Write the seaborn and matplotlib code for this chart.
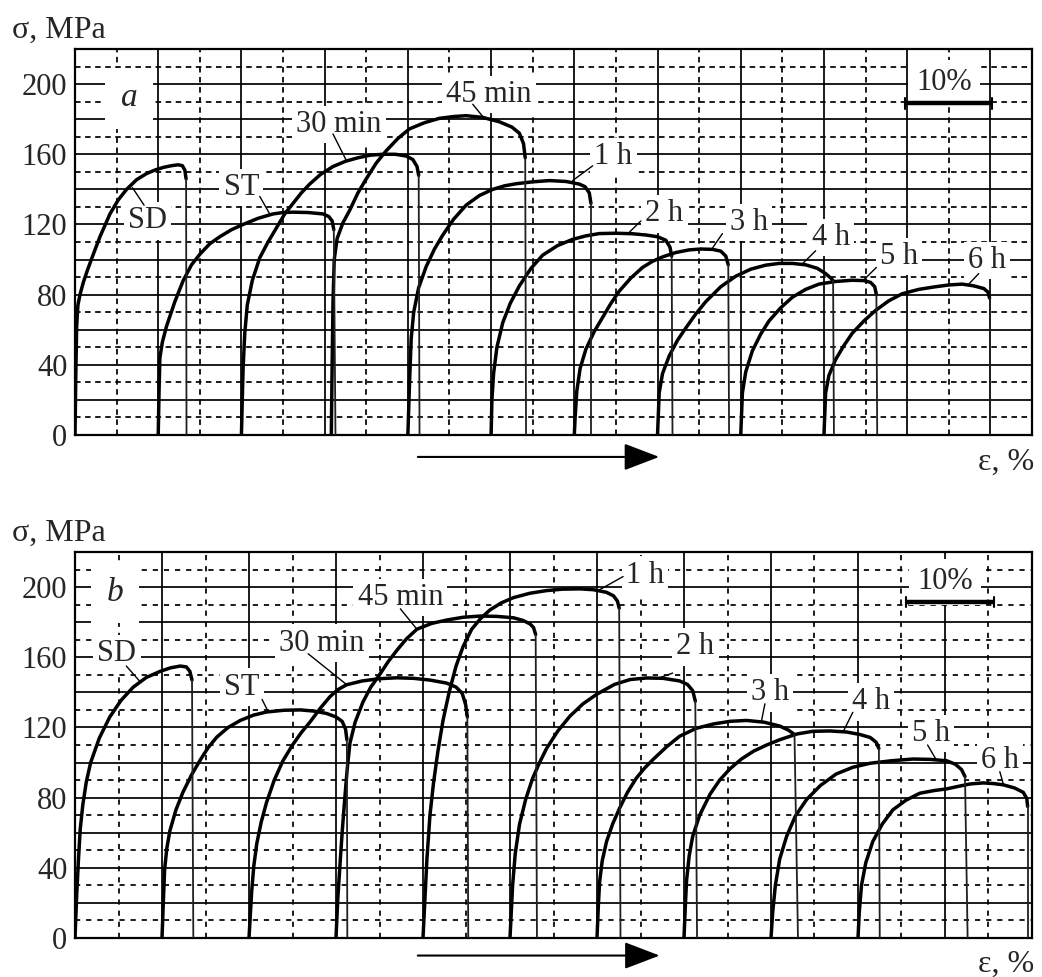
import matplotlib
matplotlib.use("Agg")
import matplotlib.pyplot as plt
import seaborn as sns
import pandas as pd
import numpy as np

CURVES = ["SD", "ST", "30 min", "45 min", "1 h", "2 h", "3 h", "4 h", "5 h", "6 h"]

# ---------------- panel a : strain (%) / stress (MPa) ----------------
A_SD_X = [0, 0.1, 0.2, 0.35, 0.6, 1.0, 1.5, 2.2, 3.0, 4.2, 5.2, 6.2, 7.4, 8.6, 9.6, 10.6, 11.6, 12.4, 12.9, 13.2, 13.35, 13.4]
A_SD_Y = [0, 35, 62, 74, 80, 87, 94, 103, 113, 126, 134, 140, 145.5, 149, 151, 152.5, 153.5, 154, 153.5, 151, 146, 0]
A_ST_X = [10, 10.1, 10.2, 10.5, 11, 12, 13, 14, 15, 16.2, 17.4, 18.8, 20.2, 22, 23.8, 25, 26.2, 28, 29.8, 30.5, 30.9, 31.1, 31.3]
A_ST_Y = [0, 25, 44, 53, 62, 76, 88, 97, 103, 109, 113, 117, 120, 123.5, 126, 126.8, 127, 126.8, 126, 124.5, 122, 117, 0]
A_30_X = [20, 20.1, 20.2, 20.4, 20.7, 21.3, 22.2, 23.2, 24.2, 25.2, 26.2, 27.2, 28.2, 29.5, 31, 32.5, 34, 35.5, 37, 38.5, 39.8, 40.6, 41.1, 41.3, 41.4]
A_30_Y = [0, 20, 38, 58, 74, 88, 101, 110, 118, 126, 132, 138, 143, 148.5, 153, 156, 158, 159.5, 160, 160, 159, 157, 153, 148, 0]
A_45_X = [30.8, 30.9, 31.0, 31.15, 31.5, 32.2, 33, 34, 35, 36.2, 37.4, 38.8, 40.2, 42, 43.8, 45.5, 47, 49, 51, 52.5, 53.4, 53.9, 54.1, 54.2]
A_45_Y = [0, 40, 75, 100, 112, 121, 128, 138, 146, 155, 162, 169, 174.5, 178, 180.5, 181.5, 182, 181, 178.5, 175.5, 172, 166, 158, 0]
A_1H_X = [40, 40.1, 40.2, 40.4, 40.7, 41.3, 42.2, 43.2, 44.2, 45.5, 47, 48.6, 50.2, 51.6, 53, 55, 57, 59, 60.6, 61.3, 61.8, 62.0, 62.0]
A_1H_Y = [0, 15, 30, 55, 70, 84, 96, 106, 114, 123, 131, 136.5, 140, 142, 143.2, 144.3, 145, 144.5, 143, 141.5, 138, 132, 0]
A_2H_X = [50, 50.1, 50.3, 50.7, 51.4, 52.3, 53.4, 54.8, 56.2, 58, 59.8, 61.4, 63, 65, 67, 68.6, 70, 71, 71.5, 71.7, 71.8]
A_2H_Y = [0, 20, 35, 50, 64, 75, 85, 95, 102.5, 108, 111.5, 113.5, 114.8, 115, 114.7, 114, 113, 111, 107, 102, 0]
A_3H_X = [60, 60.1, 60.3, 60.7, 61.4, 62.4, 63.4, 64.4, 65.4, 66.8, 68.2, 69.4, 70.6, 72.2, 73.8, 75.2, 76.6, 77.6, 78.2, 78.5, 78.6]
A_3H_Y = [0, 10, 25, 38, 49, 59, 67, 75, 82, 89.5, 95.5, 99, 101.5, 104, 105.5, 106, 105.8, 104.8, 102, 97, 0]
A_4H_X = [70, 70.1, 70.2, 70.6, 71.4, 72.4, 73.4, 74.6, 75.8, 77.6, 79.4, 81.2, 83, 84.6, 86.2, 87.8, 89.2, 90.2, 90.8, 91.1, 91.2]
A_4H_Y = [0, 12, 24, 35, 45, 54, 61, 69, 76, 84.5, 90.5, 94.5, 96.8, 97.8, 97.8, 97, 95, 92, 89.5, 88, 0]
A_5H_X = [80, 80.1, 80.2, 80.6, 81.4, 82.4, 83.4, 84.8, 86.2, 87.8, 89.4, 91.4, 93.4, 94.8, 95.6, 96.1, 96.3, 96.4]
A_5H_Y = [0, 12, 24, 36, 48, 57.5, 65, 72.5, 78.5, 83, 86, 87.5, 88.2, 88, 87, 84.5, 80, 0]
A_6H_X = [90, 90.1, 90.2, 90.6, 91.4, 92.4, 93.4, 94.8, 96.2, 97.8, 99.4, 101.4, 103.4, 105, 106.6, 108, 109.2, 109.7, 109.9, 109.9]
A_6H_Y = [0, 12, 24, 34, 43, 51, 58, 65, 71, 76.5, 80.5, 83, 84.5, 85.5, 86, 85, 83.5, 81.5, 78, 0]

# ---------------- panel b ----------------
B_SD_X = [0, 0.2, 0.4, 0.6, 0.9, 1.3, 1.8, 2.8, 4, 5.3, 6.7, 8.2, 9.8, 11, 12.1, 12.8, 13.2, 13.45, 13.6]
B_SD_Y = [0, 25, 45, 62, 76, 89, 100, 114, 126, 135.5, 143, 148.5, 152, 154, 155, 154.5, 152, 147, 0]
B_ST_X = [10, 10.15, 10.3, 10.55, 10.9, 11.6, 12.4, 13.4, 14.4, 15.3, 16.3, 17.6, 19, 20.5, 22, 24, 25.9, 27.5, 28.9, 30, 30.7, 31.1, 31.25, 31.3]
B_ST_Y = [0, 20, 39, 51, 61, 73, 83, 93, 101.5, 108.5, 114.5, 120, 124, 127, 128.8, 129.8, 130, 129.3, 128, 126, 123.5, 119, 113, 0]
B_30_X = [20, 20.15, 20.3, 20.55, 20.9, 21.4, 22, 22.9, 23.9, 25, 26, 27, 28.2, 29.3, 30.2, 31.2, 33, 35, 37, 38.9, 40.8, 42.7, 43.8, 44.5, 44.9, 45.1, 45.2]
B_30_Y = [0, 13, 26, 41, 54, 66, 77, 90, 101, 110, 117, 123, 131, 137.5, 141.5, 144.3, 146.5, 147.8, 148.3, 148, 147, 145.3, 143, 139.5, 133, 126, 0]
B_45_X = [30, 30.2, 30.5, 30.75, 31, 31.3, 31.6, 32.2, 33.1, 34, 35, 36, 37, 38.1, 39.3, 41, 42.7, 44.6, 46.6, 48.5, 50.4, 51.5, 52.3, 52.7, 52.95, 53.1]
B_45_Y = [0, 22, 45, 63, 79, 97, 111, 123, 134.5, 143, 150, 157.5, 164, 170.5, 176, 179.3, 181.2, 182.8, 183.5, 183.3, 182.5, 181, 179, 177, 173, 0]
B_1H_X = [40, 40.2, 40.45, 40.8, 41.2, 41.7, 42.3, 43, 43.8, 44.6, 45.6, 46.6, 47.7, 49, 50.4, 52.3, 54.2, 56, 58, 59.6, 61.1, 61.9, 62.35, 62.55, 62.7]
B_1H_Y = [0, 20, 45, 70, 88, 106, 124, 140, 155, 166, 176, 182, 187, 191, 194, 196.5, 198, 198.8, 199, 198.5, 197, 195, 192, 188, 0]
B_2H_X = [50, 50.15, 50.3, 50.6, 51.1, 51.8, 52.6, 53.4, 54.2, 55.5, 56.9, 58.4, 60, 62, 63.8, 65.7, 67.6, 69.5, 70.4, 71.0, 71.3, 71.5]
B_2H_Y = [0, 15, 30, 48, 65, 79, 91, 100, 108, 118, 126.5, 133.5, 139, 144.5, 147.3, 148.2, 148, 146.5, 144.5, 141, 135, 0]
B_3H_X = [60, 60.15, 60.3, 60.6, 61.1, 61.8, 62.6, 63.5, 64.5, 65.5, 66.5, 68, 69.5, 71.4, 73.4, 75.3, 77.2, 79.2, 81, 82, 82.7, 83.1]
B_3H_Y = [0, 18, 32, 44, 55, 65, 74, 83, 91, 97, 102, 109, 115, 119.5, 122, 123.5, 124, 123, 120.8, 118.5, 116, 0]
B_4H_X = [70, 70.15, 70.3, 70.6, 71, 71.8, 73, 74.1, 75.3, 76.6, 78, 79.5, 81, 83, 84.8, 86.8, 88.7, 90.2, 91.4, 92.1, 92.4, 92.5]
B_4H_Y = [0, 18, 33, 47, 58, 70, 82, 90, 96.5, 102, 106.5, 110, 113, 116.3, 117.8, 118, 117.4, 116, 114.3, 111.5, 108, 0]
B_5H_X = [80, 80.2, 80.5, 81, 81.8, 82.8, 84.1, 85.7, 87.5, 89.4, 91.4, 93.8, 96.3, 98.3, 100.2, 101.2, 101.9, 102.3, 102.6]
B_5H_Y = [0, 15, 30, 45, 58, 69.5, 79, 87, 93.5, 97.3, 99.6, 101, 102, 101.8, 101, 99, 96, 92, 0]
B_6H_X = [90, 90.15, 90.4, 90.9, 91.7, 92.8, 94, 95.5, 97.1, 98.7, 100.2, 101.6, 102.9, 104.4, 105.6, 106.7, 108, 109, 109.4, 109.5, 109.5]
B_6H_Y = [0, 15, 30, 43, 55, 65, 73, 78.5, 82.5, 84, 85, 86.5, 87.8, 88.4, 88, 87.3, 85.5, 83, 79.5, 75, 0]

Y_TICKS = [0, 40, 80, 120, 160, 200]

A_XS = [A_SD_X, A_ST_X, A_30_X, A_45_X, A_1H_X, A_2H_X, A_3H_X, A_4H_X, A_5H_X, A_6H_X]
A_YS = [A_SD_Y, A_ST_Y, A_30_Y, A_45_Y, A_1H_Y, A_2H_Y, A_3H_Y, A_4H_Y, A_5H_Y, A_6H_Y]
B_XS = [B_SD_X, B_ST_X, B_30_X, B_45_X, B_1H_X, B_2H_X, B_3H_X, B_4H_X, B_5H_X, B_6H_X]
B_YS = [B_SD_Y, B_ST_Y, B_30_Y, B_45_Y, B_1H_Y, B_2H_Y, B_3H_Y, B_4H_Y, B_5H_Y, B_6H_Y]

# ---------------- layout (label placement, leaders) ----------------
A_LABELS = {  # name: (text x, text y, leader x0, y0, x1, y1)
    "SD": (8.7, 122, 8.3, 131, 6.9, 141),
    "ST": (20.0, 141, 22.2, 136, 23.4, 126),
    "30 min": (31.7, 177, 31.0, 171.6, 32.6, 156.5),
    "45 min": (49.7, 194, 47.8, 188.5, 49.0, 181.5),
    "1 h": (64.7, 158.5, 62.2, 153.4, 59.8, 145),
    "2 h": (70.8, 126, 68.0, 122, 66.6, 115.5),
    "3 h": (81.0, 121, 77.8, 114.8, 76.6, 106.5),
    "4 h": (90.8, 112.5, 89.0, 105, 87.4, 97.5),
    "5 h": (99.0, 101.7, 96.3, 95.5, 94.8, 88.5),
    "6 h": (109.6, 99.4, 108.6, 92, 107.4, 86),
}
B_LABELS = {
    "SD": (4.8, 162, 5.9, 155, 7.5, 146),
    "ST": (19.2, 143, 21.5, 136, 22.2, 129),
    "30 min": (28.4, 168, 26.8, 162, 31.2, 144.5),
    "45 min": (37.4, 194, 37.4, 187.6, 39.3, 176),
    "1 h": (65.5, 206.8, 63.0, 206, 60.3, 198.5),
    "2 h": (71.3, 166, 68.7, 151, 67.0, 148),
    "3 h": (79.9, 139.7, 79.3, 133.5, 78.9, 123.5),
    "4 h": (91.5, 134.6, 89.4, 128.6, 88.3, 117.6),
    "5 h": (98.4, 116.6, 98.0, 110, 99.0, 101.5),
    "6 h": (106.3, 101.4, 106.3, 94.8, 106.7, 87.8),
}

sns.set_theme(style="white")
plt.rcParams["font.family"] = ["Liberation Serif", "DejaVu Serif"]

fig = plt.figure(figsize=(10.42, 9.77), dpi=100)
W, H = 1042.0, 977.0
ax_a = fig.add_axes([75 / W, 1 - 435 / H, 957 / W, 386 / H])
ax_b = fig.add_axes([75 / W, 1 - 938 / H, 957 / W, 386 / H])


def make_frames(xs, ys):
    body, drop = [], []
    for name, x, y in zip(CURVES, xs, ys):
        body.append(pd.DataFrame({"curve": name, "strain": x[:-1], "stress": y[:-1]}))
        drop.append(pd.DataFrame({"curve": name, "strain": x[-2:], "stress": y[-2:]}))
    return pd.concat(body, ignore_index=True), pd.concat(drop, ignore_index=True)


def draw_panel(ax, xs, ys, xmax, labels, tag, tagpos, barx, bary, barlabel_xy,
               arrow_x, arrow_y, dash):
    ax.set_xlim(0, xmax)
    ax.set_ylim(0, 220)
    ax.set_xticks(np.arange(0, xmax + 0.01, 10))
    ax.set_xticks(np.arange(5, xmax, 10), minor=True)
    yt = np.arange(0, 221, 20)
    ax.set_yticks(yt)
    ax.set_yticks(np.arange(10, 220, 20), minor=True)
    ax.set_yticklabels([str(v) if v in Y_TICKS else "" for v in yt], fontsize=22)
    ax.set_xticklabels([])
    ax.tick_params(which="both", length=0, pad=5.5)
    ax.set_axisbelow(True)
    ax.grid(which="major", color="black", lw=1.25, ls="-")
    ax.grid(which="minor", color="black", lw=1.25, ls=(0, dash))
    for s in ax.spines.values():
        s.set_color("black")
        s.set_linewidth(1.6)

    body, drop = make_frames(xs, ys)
    sns.lineplot(data=body, x="strain", y="stress", units="curve", estimator=None,
                 sort=False, color="black", linewidth=2.5, ax=ax, legend=False, zorder=4)
    sns.lineplot(data=drop, x="strain", y="stress", units="curve", estimator=None,
                 sort=False, color="#202020", linewidth=1.3, ax=ax, legend=False, zorder=4)
    ax.set_xlabel("")
    ax.set_ylabel("")
    for ln in ax.lines[-20:]:
        ln.set_solid_joinstyle("round")
        ln.set_solid_capstyle("round")

    for name, (tx, ty, lx0, ly0, lx1, ly1) in labels.items():
        ax.text(tx, ty, name, ha="center", va="center", fontsize=22, zorder=5,
                bbox=dict(fc="white", ec="none", pad=3))
        ax.plot([lx0, lx1], [ly0, ly1], color="black", lw=1.0, zorder=5)

    ax.text(tagpos[0], tagpos[1], tag, ha="center", va="center", fontsize=24,
            style="italic", zorder=5, bbox=dict(fc="white", ec="none", pad=11))

    # 10 % scale bar
    ax.text(barlabel_xy[0], barlabel_xy[1], "10%", ha="center", va="center",
            fontsize=22, zorder=5, bbox=dict(fc="white", ec="none", pad=6))
    ax.plot(barx, [bary, bary], color="black", lw=3.2, solid_capstyle="butt", zorder=6)
    for bx in barx:
        ax.plot([bx, bx], [bary - 3, bary + 3], color="black", lw=1.5, zorder=6)

    ax.annotate("", xy=(arrow_x[1], arrow_y), xytext=(arrow_x[0], arrow_y),
                xycoords="data", annotation_clip=False,
                arrowprops=dict(arrowstyle="-|>,head_length=1.1,head_width=0.42",
                                mutation_scale=20, color="black", lw=1.5,
                                shrinkA=0, shrinkB=0))


draw_panel(ax_a, A_XS, A_YS, 115, A_LABELS, "a", (6.5, 192),
           [99.7, 110.2], 189, (104.4, 201), (41.2, 70.2), -12.5, (3.2, 2.6))
draw_panel(ax_b, B_XS, B_YS, 110, B_LABELS, "b", (4.6, 197),
           [95.5, 105.6], 191.5, (100.0, 203), (39.4, 67.2), -10.0, (3.0, 3.4))

for yc in (30, 533):
    fig.text(12 / W, 1 - yc / H, "σ, MPa", ha="left", va="center", fontsize=23)
for yc in (462, 964):
    fig.text(1034 / W, 1 - yc / H, "ε, %", ha="right", va="center", fontsize=23)

fig.savefig("out.png", dpi=100, facecolor="white")
